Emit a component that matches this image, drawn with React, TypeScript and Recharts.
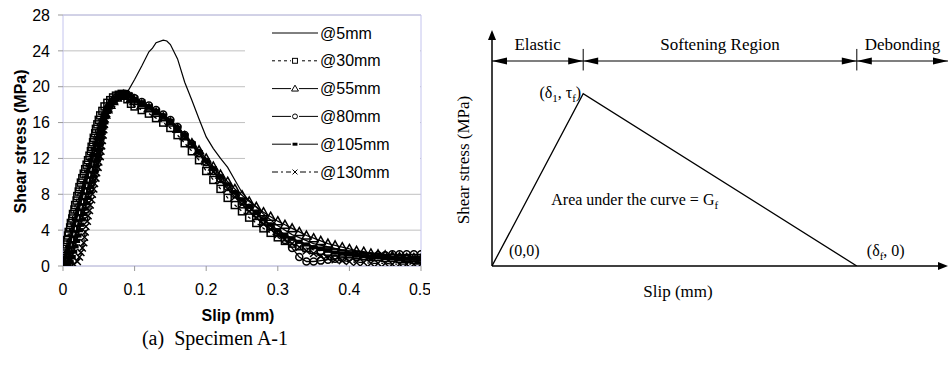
import React from 'react';
import {
  LineChart,
  Line,
  XAxis,
  YAxis,
  CartesianGrid,
  Legend,
  ReferenceLine,
  ReferenceDot,
  Label,
  LabelList,
} from 'recharts';

const SANS = '"Liberation Sans", Arial, sans-serif';
const SERIF = '"Liberation Serif", "Times New Roman", serif';
const BORDER = '#c4c4ee';
const GRID = '#c0c0c0';

// ---- (a) Specimen A-1 ----
const SLIP_TICKS = [0, 0.1, 0.2, 0.3, 0.4, 0.5];
const STRESS_TICKS = [0, 4, 8, 12, 16, 20, 24, 28];

// @5mm gauge, thin line without markers
const GAUGE_5MM: [number, number][] = [
  [0, 0], [0.005, 1.5], [0.01, 3], [0.015, 4.6], [0.02, 6.2], [0.025, 7.8], [0.03, 9.4],
  [0.035, 11], [0.04, 12.5], [0.045, 13.8], [0.05, 15], [0.06, 16.8], [0.07, 18],
  [0.08, 18.8], [0.09, 19.4], [0.1, 20.8], [0.11, 22.3], [0.12, 23.9], [0.125, 24.3],
  [0.13, 24.9], [0.14, 25.2], [0.145, 25.1], [0.15, 24.7], [0.16, 23.1], [0.17, 20.5],
  [0.18, 18.5], [0.19, 16.4], [0.2, 14.4], [0.21, 13.1], [0.22, 12], [0.23, 11],
  [0.24, 9.6], [0.25, 8.2], [0.26, 7.3], [0.28, 5.8], [0.3, 4.5], [0.32, 3.5],
  [0.35, 2.5], [0.4, 1.6], [0.45, 1.1], [0.5, 0.9],
];

// rising branch up to the peak, [slip, stress] per gauge
const RISE_30: [number, number][] = [
  [0, 0], [0.001, 0.4], [0.002, 0.9], [0.003, 1.4], [0.004, 1.9], [0.005, 2.4], [0.006, 2.9],
  [0.007, 3.4], [0.008, 3.8], [0.01, 4.3], [0.011, 4.8], [0.013, 5.3], [0.014, 5.8], [0.016, 6.3],
  [0.017, 6.8], [0.019, 7.3], [0.02, 7.8], [0.022, 8.3], [0.023, 8.8], [0.025, 9.3], [0.027, 9.8],
  [0.029, 10.3], [0.031, 10.8], [0.033, 11.3], [0.035, 11.8], [0.037, 12.3], [0.039, 12.8],
  [0.04, 13.3], [0.042, 13.8], [0.043, 14.3], [0.045, 14.8], [0.046, 15.3], [0.048, 15.8],
  [0.05, 16.3], [0.052, 16.8], [0.055, 17.3], [0.058, 17.8], [0.062, 18.2], [0.066, 18.5],
  [0.07, 18.8], [0.074, 19.0], [0.078, 19.1], [0.082, 19.2], [0.086, 19.1], [0.09, 18.6], [0.095, 18.1],
];
const RISE_55: [number, number][] = [
  [0, 0], [0.002, 0.3], [0.004, 0.8], [0.006, 1.3], [0.008, 1.9], [0.01, 2.5], [0.012, 3.1],
  [0.014, 3.7], [0.016, 4.3], [0.018, 4.9], [0.02, 5.5], [0.022, 6.1], [0.024, 6.7], [0.026, 7.3],
  [0.028, 7.9], [0.03, 8.5], [0.032, 9.1], [0.034, 9.7], [0.036, 10.3], [0.038, 10.9], [0.04, 11.5],
  [0.042, 12.1], [0.044, 12.7], [0.046, 13.3], [0.048, 13.9], [0.05, 14.5], [0.052, 15.1],
  [0.054, 15.7], [0.056, 16.3], [0.059, 16.9], [0.062, 17.5], [0.066, 18.0], [0.07, 18.4],
  [0.075, 18.8], [0.08, 19.0], [0.085, 19.1], [0.09, 19.0], [0.095, 18.7],
];
const RISE_80: [number, number][] = [
  [0, 0], [0.004, 0.2], [0.007, 0.6], [0.009, 1.1], [0.011, 1.7], [0.013, 2.3], [0.015, 2.9],
  [0.017, 3.5], [0.019, 4.1], [0.021, 4.7], [0.023, 5.3], [0.025, 5.9], [0.027, 6.5], [0.029, 7.1],
  [0.031, 7.7], [0.033, 8.3], [0.035, 8.9], [0.037, 9.5], [0.039, 10.1], [0.041, 10.7], [0.043, 11.3],
  [0.045, 11.9], [0.047, 12.5], [0.048, 13.1], [0.05, 13.7], [0.051, 14.3], [0.053, 14.9],
  [0.054, 15.5], [0.056, 16.1], [0.058, 16.7], [0.061, 17.3], [0.064, 17.8], [0.068, 18.3],
  [0.073, 18.7], [0.078, 19.0], [0.084, 19.2], [0.089, 19.2], [0.094, 18.9],
];
const RISE_105: [number, number][] = [
  [0, 0], [0.006, 0.2], [0.01, 0.5], [0.013, 1.0], [0.015, 1.6], [0.017, 2.2], [0.019, 2.8],
  [0.021, 3.4], [0.023, 4.0], [0.025, 4.6], [0.027, 5.2], [0.029, 5.8], [0.031, 6.4], [0.033, 7.0],
  [0.035, 7.6], [0.037, 8.2], [0.039, 8.8], [0.041, 9.4], [0.043, 10.0], [0.045, 10.6], [0.046, 11.2],
  [0.048, 11.8], [0.049, 12.4], [0.051, 13.0], [0.052, 13.6], [0.053, 14.2], [0.054, 14.8],
  [0.055, 15.4], [0.057, 16.0], [0.059, 16.6], [0.062, 17.2], [0.065, 17.7], [0.069, 18.2],
  [0.074, 18.6], [0.079, 18.9], [0.084, 19.1], [0.089, 19.1], [0.094, 18.9],
];
const RISE_130: [number, number][] = [
  [0, 0], [0.005, 0], [0.01, 0.1], [0.015, 0.2], [0.02, 0.5], [0.023, 1.0], [0.025, 1.5],
  [0.027, 2.0], [0.029, 2.6], [0.03, 3.2], [0.031, 3.8], [0.032, 4.4], [0.034, 5.0], [0.035, 5.6],
  [0.037, 6.2], [0.038, 6.8], [0.04, 7.4], [0.041, 8.0], [0.043, 8.6], [0.044, 9.2], [0.046, 9.8],
  [0.047, 10.4], [0.049, 11.0], [0.05, 11.6], [0.052, 12.2], [0.053, 12.8], [0.054, 13.4],
  [0.055, 14.0], [0.056, 14.6], [0.057, 15.2], [0.058, 15.8], [0.059, 16.4], [0.061, 17.0],
  [0.064, 17.6], [0.068, 18.1], [0.072, 18.5], [0.077, 18.8], [0.082, 19.0], [0.087, 19.1],
  [0.092, 19.0], [0.096, 18.8],
];

// softening branch: shared slips, stress read per gauge
const TAIL_SLIP = [0.1, 0.11, 0.12, 0.13, 0.14, 0.15, 0.16, 0.17, 0.18, 0.19, 0.2, 0.21, 0.22, 0.23, 0.24, 0.25, 0.26, 0.27, 0.28, 0.29, 0.3, 0.31, 0.32, 0.33, 0.34, 0.35, 0.36, 0.37, 0.38, 0.39, 0.4, 0.41, 0.42, 0.43, 0.44, 0.45, 0.46, 0.47, 0.48, 0.49, 0.5];
const TAIL_STRESS_30 = [17.8, 17.4, 17.0, 16.5, 16.0, 15.4, 14.6, 13.7, 12.8, 11.8, 10.6, 9.6, 8.6, 7.6, 6.8, 6.1, 5.4, 4.8, 4.2, 3.7, 3.2, 2.8, 2.5, 2.2, 2.0, 1.8, 1.7, 1.6, 1.5, 1.4, 1.3, 1.2, 1.1, 1.0, 1.0, 0.9, 0.9, 0.8, 0.8, 0.7, 0.7];
const TAIL_STRESS_55 = [18.4, 18.0, 17.6, 17.1, 16.6, 16.0, 15.3, 14.5, 13.7, 12.9, 12.0, 11.1, 10.2, 9.4, 8.6, 7.9, 7.2, 6.6, 6.0, 5.5, 5.0, 4.6, 4.2, 3.8, 3.4, 3.1, 2.8, 2.5, 2.3, 2.1, 1.9, 1.7, 1.6, 1.4, 1.3, 1.2, 1.1, 1.0, 0.9, 0.9, 0.8];
const TAIL_STRESS_80 = [18.7, 18.3, 17.9, 17.4, 16.9, 16.3, 15.5, 14.6, 13.6, 12.6, 11.6, 10.6, 9.7, 8.8, 8.0, 7.2, 6.5, 5.8, 5.1, 4.4, 3.7, 2.9, 2.0, 1.0, 0.5, 0.5, 0.6, 0.7, 0.8, 0.9, 1.0, 1.0, 1.1, 1.1, 1.2, 1.2, 1.3, 1.3, 1.3, 1.3, 1.3];
const TAIL_STRESS_105 = [18.6, 18.2, 17.8, 17.3, 16.8, 16.2, 15.4, 14.6, 13.7, 12.7, 11.8, 10.9, 10.0, 9.1, 8.2, 7.4, 6.6, 5.9, 5.2, 4.6, 4.0, 3.5, 3.1, 2.7, 2.4, 2.1, 1.9, 1.7, 1.5, 1.4, 1.3, 1.2, 1.1, 1.0, 1.0, 0.9, 0.9, 0.8, 0.8, 0.8, 0.7];
const TAIL_STRESS_130 = [18.6, 18.2, 17.7, 17.2, 16.6, 16.0, 15.3, 14.4, 13.5, 12.5, 11.5, 10.5, 9.5, 8.6, 7.7, 6.9, 6.1, 5.4, 4.7, 4.1, 3.5, 3.0, 2.5, 2.1, 1.7, 1.4, 1.1, 0.9, 0.7, 0.6, 0.5, 0.4, 0.4, 0.3, 0.3, 0.3, 0.2, 0.2, 0.2, 0.2, 0.2];

type Pt = { x: number; y: number };

const buildGauge = (rise: [number, number][], tailStress: number[]): Pt[] =>
  rise.map(([x, y]) => ({ x, y })).concat(TAIL_SLIP.map((x, i) => ({ x, y: tailStress[i] })));

const GAUGES = [
  { name: '@30mm', data: buildGauge(RISE_30, TAIL_STRESS_30), marker: 'square', dash: '3 3' },
  { name: '@55mm', data: buildGauge(RISE_55, TAIL_STRESS_55), marker: 'triangle', dash: undefined },
  { name: '@80mm', data: buildGauge(RISE_80, TAIL_STRESS_80), marker: 'circle', dash: undefined },
  { name: '@105mm', data: buildGauge(RISE_105, TAIL_STRESS_105), marker: 'bar', dash: undefined },
  { name: '@130mm', data: buildGauge(RISE_130, TAIL_STRESS_130), marker: 'cross', dash: '6 3 2 3' },
];

const LEGEND_ROWS = [{ name: '@5mm', marker: '', dash: undefined as string | undefined }].concat(
  GAUGES.map((g) => ({ name: g.name, marker: g.marker, dash: g.dash }))
);

function Marker({ kind, cx, cy, s = 1, w = 1 }: { kind: string; cx: number; cy: number; s?: number; w?: number }) {
  const h = 3.5 * s;
  if (kind === 'square')
    return <rect x={cx - h} y={cy - h} width={2 * h} height={2 * h} fill="none" stroke="#000" strokeWidth={w} />;
  if (kind === 'triangle')
    return <path d={`M${cx},${cy - h - 1}L${cx + h + 1},${cy + h}L${cx - h - 1},${cy + h}Z`} fill="none" stroke="#000" strokeWidth={w} />;
  if (kind === 'circle') return <circle cx={cx} cy={cy} r={h} fill="none" stroke="#000" strokeWidth={w} />;
  if (kind === 'bar') return <rect x={cx - h} y={cy - h * 0.6} width={2 * h} height={h * 1.2} fill="#000" />;
  if (kind === 'cross')
    return <path d={`M${cx - h},${cy - h}L${cx + h},${cy + h}M${cx - h},${cy + h}L${cx + h},${cy - h}`} stroke="#000" strokeWidth={w} />;
  return <g />;
}

const renderLegend = () => (
  <svg width={175} height={172} style={{ display: 'block' }}>
    {LEGEND_ROWS.map((r, i) => {
      const cy = 16 + i * 27.8;
      return (
        <g key={r.name}>
          <line x1={27} x2={73} y1={cy} y2={cy} stroke="#000" strokeWidth={1} strokeDasharray={r.dash} />
          {r.marker && (
            <>
              <rect x={46} y={cy - 4} width={8} height={8} fill="#fff" />
              <Marker kind={r.marker} cx={50} cy={cy} s={0.7} />
            </>
          )}
          <text x={75} y={cy} dominantBaseline="central" fontSize={16} fontFamily={SANS} fill="#000">
            {r.name}
          </text>
        </g>
      );
    })}
  </svg>
);

function SpecimenChart() {
  return (
    <LineChart width={430} height={366} margin={{ top: 15, right: 9, left: 0, bottom: 56 }}>
      <CartesianGrid vertical={false} stroke={GRID} />
      <XAxis
        type="number"
        dataKey="x"
        domain={[0, 0.5]}
        ticks={SLIP_TICKS}
        allowDataOverflow
        height={44}
        axisLine={{ stroke: BORDER }}
        tickLine={{ stroke: '#999' }}
        tickSize={5}
        tickMargin={13}
        tick={{ fontSize: 16, fontFamily: SANS, fill: '#000' }}
        label={
          <Label
            content={({ viewBox }: any) => (
              <text x={viewBox.x + viewBox.width / 2 - 4} y={viewBox.y + 49} textAnchor="middle" dominantBaseline="central" fontSize={16} fontWeight="bold" fontFamily={SANS}>
                Slip (mm)
              </text>
            )}
          />
        }
      />
      <YAxis
        type="number"
        domain={[0, 28]}
        ticks={STRESS_TICKS}
        allowDataOverflow
        width={63}
        axisLine={{ stroke: BORDER }}
        tickLine={{ stroke: '#999' }}
        tickSize={5}
        tickMargin={8}
        tick={{ fontSize: 16, fontFamily: SANS, fill: '#000' }}
        label={
          <Label
            content={({ viewBox }: any) => {
              const x = viewBox.x + 20;
              const y = viewBox.y + viewBox.height / 2 + 1;
              return (
                <text x={x} y={y} transform={`rotate(-90, ${x}, ${y})`} textAnchor="middle" dominantBaseline="central" fontSize={16} fontWeight="bold" fontFamily={SANS}>
                  Shear stress (MPa)
                </text>
              );
            }}
          />
        }
      />
      <ReferenceLine y={28} stroke={BORDER} />
      <ReferenceLine x={0.5} stroke={BORDER} />
      {GAUGES.map((g) => (
        <Line
          key={g.name}
          data={g.data}
          dataKey="y"
          type="linear"
          stroke="#000"
          strokeWidth={1.3}
          strokeDasharray={g.dash}
          dot={(p: any) => <Marker key={`${g.name}-${p.index}`} kind={g.marker} cx={p.cx} cy={p.cy} w={1.5} />}
          isAnimationActive={false}
        />
      ))}
      <Line
        data={GAUGE_5MM.map(([x, y]) => ({ x, y }))}
        dataKey="y"
        type="linear"
        stroke="#000"
        strokeWidth={1.2}
        dot={false}
        isAnimationActive={false}
      />
      <Legend
        layout="vertical"
        align="center"
        verticalAlign="middle"
        content={renderLegend}
        wrapperStyle={{ left: 245, top: 17, width: 175, height: 172, backgroundColor: '#fff' }}
      />
    </LineChart>
  );
}

// ---- bilinear bond-slip model ----
const MODEL_SLIP = [0, 1, 4]; // 0, delta1, deltaf
const MODEL_STRESS = [0, 1, 0]; // 0, tauf, 0
const SLIP_MAX = 5;
const STRESS_MAX = 1.37;
const REGION_BOUNDS = [0, 1, 4, 5];
const REGION_NAMES = ['Elastic', 'Softening Region', 'Debonding'];
const REGION_ROW = 1.19;
const AREA_NOTE: Pt = { x: 0.65, y: 0.383 };

const MODEL_DATA: Pt[] = MODEL_SLIP.map((x, i) => ({ x, y: MODEL_STRESS[i] }));

const arrowHead = (x: number, y: number, a: number, len: number, half: number) => {
  const bx = x - len * Math.cos(a);
  const by = y - len * Math.sin(a);
  const nx = -Math.sin(a) * half;
  const ny = Math.cos(a) * half;
  return `${x},${y} ${bx + nx},${by + ny} ${bx - nx},${by - ny}`;
};

const axisArrow = (p: any) => {
  const { x1, y1, x2, y2 } = p;
  const a = Math.atan2(y2 - y1, x2 - x1);
  return (
    <g>
      <line x1={x1} y1={y1} x2={x2 - 8 * Math.cos(a)} y2={y2 - 8 * Math.sin(a)} stroke="#000" strokeWidth={1.5} />
      <polygon points={arrowHead(x2, y2, a, 10, 4)} fill="#000" />
    </g>
  );
};

const spanArrow = (p: any) => {
  const { x1, y1, x2, y2 } = p;
  const a = Math.atan2(y2 - y1, x2 - x1);
  return (
    <g>
      <line x1={x1} y1={y1} x2={x2} y2={y2} stroke="#000" strokeWidth={1.2} />
      <polygon points={arrowHead(x2, y2, a, 15, 3.5)} fill="#000" />
      <polygon points={arrowHead(x1, y1, a + Math.PI, 15, 3.5)} fill="#000" />
    </g>
  );
};

const SUB = { fontSize: 11, dy: 4 };

const cornerLabel = (p: any) => {
  const { x, y, index } = p;
  const common = { fontSize: 16, fontFamily: SERIF, fill: '#000' };
  if (index === 0)
    return <text key="c0" x={x + 17} y={y - 10} {...common}>(0,0)</text>;
  if (index === 1)
    return (
      <text key="c1" x={x - 2} y={y + 4} textAnchor="end" {...common}>
        <tspan>(δ</tspan>
        <tspan {...SUB}>1</tspan>
        <tspan dy={-4}>, τ</tspan>
        <tspan {...SUB}>f</tspan>
        <tspan dy={-4}>)</tspan>
      </text>
    );
  return (
    <text key="c2" x={x + 10} y={y - 10} {...common}>
      <tspan>(δ</tspan>
      <tspan {...SUB}>f</tspan>
      <tspan dy={-4}>, 0)</tspan>
    </text>
  );
};

function ModelChart() {
  return (
    <LineChart width={498} height={310} margin={{ top: 30, right: 0, left: 0, bottom: 0 }}>
      <XAxis
        type="number"
        dataKey="x"
        domain={[0, SLIP_MAX]}
        allowDataOverflow
        height={44}
        axisLine={false}
        tickLine={false}
        tick={false}
        label={
          <Label
            content={({ viewBox }: any) => (
              <text x={viewBox.x + 186} y={viewBox.y + 25} textAnchor="middle" dominantBaseline="central" fontSize={17} fontFamily={SERIF}>
                Slip (mm)
              </text>
            )}
          />
        }
      />
      <YAxis
        type="number"
        domain={[0, STRESS_MAX]}
        allowDataOverflow
        width={42}
        axisLine={false}
        tickLine={false}
        tick={false}
        label={
          <Label
            content={({ viewBox }: any) => {
              const x = viewBox.x + 13;
              const y = viewBox.y + 130;
              return (
                <text x={x} y={y} transform={`rotate(-90, ${x}, ${y})`} textAnchor="middle" dominantBaseline="central" fontSize={17} fontFamily={SERIF}>
                  Shear stress (MPa)
                </text>
              );
            }}
          />
        }
      />
      <ReferenceLine segment={[{ x: 0, y: 0 }, { x: 0, y: STRESS_MAX }]} shape={axisArrow} ifOverflow="visible" />
      <ReferenceLine segment={[{ x: 0, y: 0 }, { x: SLIP_MAX, y: 0 }]} shape={axisArrow} ifOverflow="visible" />
      {REGION_NAMES.map((name, i) => (
        <ReferenceLine
          key={name}
          segment={[{ x: REGION_BOUNDS[i], y: REGION_ROW }, { x: REGION_BOUNDS[i + 1], y: REGION_ROW }]}
          shape={spanArrow}
          ifOverflow="visible"
          label={{ value: name, position: 'top', offset: 11, fontSize: 17, fontFamily: SERIF, fill: '#000' }}
        />
      ))}
      {REGION_BOUNDS.slice(1, 3).map((x) => (
        <ReferenceLine
          key={`b${x}`}
          segment={[{ x, y: REGION_ROW - 0.055 }, { x, y: REGION_ROW + 0.07 }]}
          stroke="#000"
          strokeWidth={1}
          ifOverflow="visible"
        />
      ))}
      <Line data={MODEL_DATA} dataKey="y" type="linear" stroke="#000" strokeWidth={1.3} dot={false} isAnimationActive={false}>
        <LabelList dataKey="y" content={cornerLabel} />
      </Line>
      <ReferenceDot
        x={AREA_NOTE.x}
        y={AREA_NOTE.y}
        r={0}
        stroke="none"
        ifOverflow="visible"
        label={
          <Label
            content={({ viewBox }: any) => (
              <text x={viewBox.x} y={viewBox.y + 5} fontSize={16} fontFamily={SERIF} fill="#000">
                <tspan>Area under the curve = G</tspan>
                <tspan {...SUB}>f</tspan>
              </text>
            )}
          />
        }
      />
    </LineChart>
  );
}

export default function App() {
  return (
    <div style={{ position: 'absolute', left: 0, top: 0, width: 948, height: 366, background: '#fff', overflow: 'hidden' }}>
      <div style={{ position: 'absolute', left: 0, top: 0 }}>
        <SpecimenChart />
      </div>
      <div style={{ position: 'absolute', left: 450, top: 0 }}>
        <ModelChart />
      </div>
      <div
        style={{
          position: 'absolute',
          left: 0,
          top: 326,
          width: 430,
          textAlign: 'center',
          fontFamily: SERIF,
          fontSize: 20,
          lineHeight: '24px',
          whiteSpace: 'pre',
        }}
      >
        {'(a)  Specimen A-1'}
      </div>
    </div>
  );
}
